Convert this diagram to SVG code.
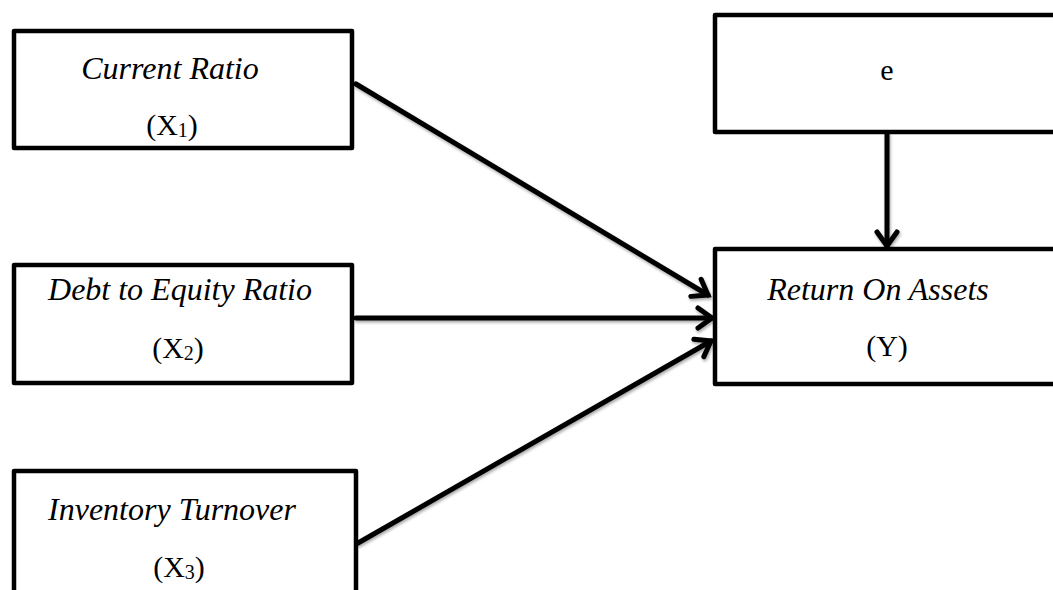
<svg xmlns="http://www.w3.org/2000/svg" width="1053" height="590" viewBox="0 0 1053 590">
<style>
.box{fill:#fff;stroke:#000;stroke-width:4.5;stroke-linejoin:round}
.t{font-family:"Liberation Serif","Times New Roman",serif;font-size:30px;fill:#000;text-anchor:middle}
.i{font-style:italic;font-size:32px}
.c{fill:none;stroke:#000;stroke-width:5;stroke-linecap:round}
</style>
<defs>
<marker id="ah" markerUnits="userSpaceOnUse" markerWidth="30" markerHeight="30" refX="22" refY="12" orient="auto" viewBox="0 0 30 24">
<path d="M8,2 L22,12 L8,22" fill="none" stroke="#000" stroke-width="5" stroke-linecap="round" stroke-linejoin="miter"/>
</marker>
<filter id="sh" x="-10%" y="-10%" width="120%" height="120%">
<feGaussianBlur in="SourceAlpha" stdDeviation="1.5"/>
<feOffset dx="1" dy="2" result="b"/>
<feComponentTransfer><feFuncA type="linear" slope="0.35"/></feComponentTransfer>
<feMerge><feMergeNode/><feMergeNode in="SourceGraphic"/></feMerge>
</filter>
</defs>
<g id="connectors" filter="url(#sh)">
<line class="c" x1="356" y1="84" x2="708" y2="295" marker-end="url(#ah)"/>
<line class="c" x1="356" y1="318" x2="712" y2="318" marker-end="url(#ah)"/>
<line class="c" x1="358" y1="543" x2="711" y2="341" marker-end="url(#ah)"/>
<line class="c" x1="887" y1="134" x2="887" y2="246" marker-end="url(#ah)"/>
</g>
<g id="x1">
<rect class="box" x="14" y="31" width="338" height="117"/>
<text class="t i" x="170" y="79">Current Ratio</text>
<text class="t" x="172" y="135">(X<tspan font-size="20" dy="2">1</tspan><tspan dy="-2">)</tspan></text>
</g>
<g id="x2">
<rect class="box" x="14" y="265" width="338" height="118"/>
<text class="t i" x="180" y="300">Debt to Equity Ratio</text>
<text class="t" x="178" y="358">(X<tspan font-size="20" dy="2">2</tspan><tspan dy="-2">)</tspan></text>
</g>
<g id="x3">
<rect class="box" x="14" y="471" width="342" height="130"/>
<text class="t i" x="172" y="520">Inventory Turnover</text>
<text class="t" x="179" y="577">(X<tspan font-size="20" dy="2">3</tspan><tspan dy="-2">)</tspan></text>
</g>
<g id="e">
<rect class="box" x="715" y="15" width="350" height="117"/>
<text class="t" x="887" y="80">e</text>
</g>
<g id="y">
<rect class="box" x="715" y="249" width="350" height="135"/>
<text class="t i" x="878" y="300">Return On Assets</text>
<text class="t" x="887" y="356">(Y)</text>
</g>
</svg>
